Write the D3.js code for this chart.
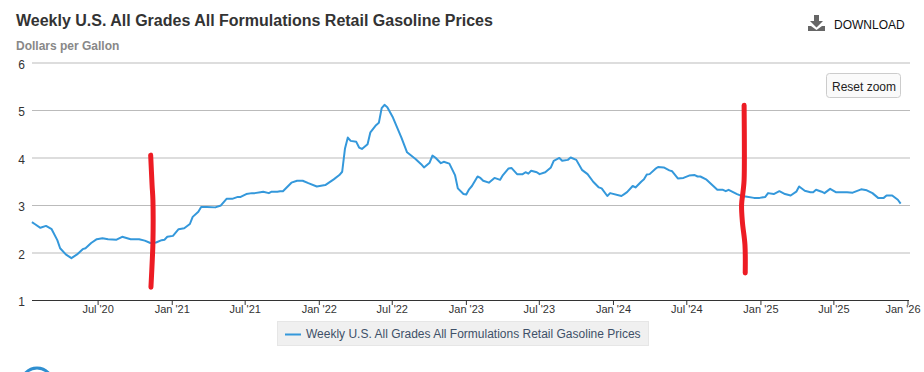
<!DOCTYPE html>
<html>
<head>
<meta charset="utf-8">
<script src="https://cdn.jsdelivr.net/npm/d3@7"></script>
<style>
    html, body { margin: 0; padding: 0; background: #fff; overflow: hidden; }
    svg { display: block; font-family: "Liberation Sans", Arial, sans-serif; }
</style>
</head>
<body>
<svg id="chart" width="924" height="372"></svg>
<script>
const chartTitle = "Weekly U.S. All Grades All Formulations Retail Gasoline Prices";
const unitLabel = "Dollars per Gallon";

// weeks counted from the first Monday on the chart
const firstWeek = "2020-01-20";
const weekNo = [
    0, 1, 3, 5, 7, 9, 10, 12, 14, 16, 18, 19, 21, 23, 25, 27, 30, 32, 35, 38,
    40, 42, 44, 46, 47, 48, 50, 52, 54, 56, 57, 59, 60, 62, 65, 67, 69, 71, 73, 74,
    76, 78, 79, 81, 82, 84, 85, 87, 88, 89, 92, 94, 96, 98, 101, 104, 107, 109, 110, 111,
    112, 113, 115, 116, 117, 119, 120, 122, 123, 124, 125, 126, 128, 131, 133, 136, 138, 139, 141, 142,
    143, 145, 146, 148, 150, 151, 153, 154, 155, 156, 158, 159, 160, 162, 164, 166, 167, 169, 170, 172,
    174, 175, 176, 177, 179, 180, 182, 184, 185, 187, 188, 190, 191, 193, 195, 197, 199, 201, 202, 204,
    205, 209, 210, 211, 213, 214, 216, 217, 218, 219, 221, 222, 224, 226, 227, 229, 231, 233, 235, 236,
    237, 239, 241, 243, 245, 246, 247, 250, 252, 253, 256, 258, 260, 261, 263, 265, 267, 269, 271, 272,
    274, 276, 277, 278, 280, 281, 283, 285, 287, 289, 291, 294, 296, 298, 300, 302, 303, 305, 307, 308
];
const prices = [
    2.64, 2.60, 2.52, 2.56, 2.49, 2.26, 2.09, 1.96, 1.88, 1.96, 2.07, 2.09, 2.20, 2.28, 2.30, 2.28, 2.27, 2.33, 2.28, 2.28,
    2.25, 2.20, 2.21, 2.26, 2.27, 2.33, 2.35, 2.49, 2.51, 2.60, 2.75, 2.86, 2.96, 2.96, 2.95, 2.99, 3.13, 3.13, 3.17, 3.17,
    3.23, 3.25, 3.25, 3.27, 3.28, 3.25, 3.28, 3.28, 3.29, 3.29, 3.47, 3.51, 3.51, 3.46, 3.39, 3.42, 3.54, 3.63, 3.70, 4.19,
    4.42, 4.35, 4.33, 4.21, 4.18, 4.28, 4.53, 4.68, 4.73, 5.04, 5.11, 5.06, 4.84, 4.42, 4.11, 3.97, 3.86, 3.79, 3.89, 4.04,
    4.00, 3.88, 3.91, 3.87, 3.63, 3.35, 3.23, 3.22, 3.33, 3.40, 3.60, 3.57, 3.51, 3.47, 3.57, 3.53, 3.63, 3.77, 3.78, 3.65,
    3.65, 3.69, 3.66, 3.72, 3.69, 3.65, 3.69, 3.79, 3.93, 3.99, 3.93, 3.95, 4.00, 3.95, 3.74, 3.65, 3.49, 3.37, 3.35, 3.19,
    3.25, 3.19, 3.23, 3.27, 3.40, 3.37, 3.49, 3.54, 3.64, 3.65, 3.76, 3.80, 3.79, 3.73, 3.71, 3.56, 3.57, 3.62, 3.63, 3.60,
    3.60, 3.54, 3.43, 3.32, 3.32, 3.29, 3.32, 3.23, 3.18, 3.18, 3.15, 3.15, 3.17, 3.25, 3.23, 3.29, 3.23, 3.20, 3.28, 3.39,
    3.30, 3.27, 3.27, 3.32, 3.28, 3.25, 3.34, 3.27, 3.27, 3.27, 3.26, 3.33, 3.31, 3.25, 3.15, 3.15, 3.20, 3.20, 3.11, 3.03
];

const yTicks = [1, 2, 3, 4, 5, 6];
const xTickDates = ["2020-07-01", "2021-01-01", "2021-07-01", "2022-01-01", "2022-07-01", "2023-01-01",
    "2023-07-01", "2024-01-01", "2024-07-01", "2025-01-01", "2025-07-01", "2026-01-01"];
const xTickLabels = ["Jul '20", "Jan '21", "Jul '21", "Jan '22", "Jul '22", "Jan '23",
    "Jul '23", "Jan '24", "Jul '24", "Jan '25", "Jul '25", "Jan '26"];

// the two red marker strokes somebody drew by hand on the screenshot
const leftInkWeeks = [42.1, 42.6, 42.9, 42.9, 42.7, 42.2];
const leftInkPrices = [4.05, 3.42, 3.1, 2.2, 1.88, 1.27];
const rightInkWeeks = [252.5, 252.5, 252.2, 251.6, 251.9, 252.8, 252.9];
const rightInkPrices = [5.1, 3.53, 3.32, 3.0, 2.64, 2.16, 1.57];

const margin = {top: 62.5, left: 32, right: 14, bottom: 72};
const width = +d3.select("#chart").attr("width");
const height = +d3.select("#chart").attr("height");
const svg = d3.select("#chart");

const parseDay = d3.utcParse("%Y-%m-%d");
const weekDate = w => new Date(parseDay(firstWeek).getTime() + w * 7 * 864e5);

const x = d3.scaleUtc()
    .domain([parseDay(xTickDates[0]), parseDay(xTickDates[xTickDates.length - 1])])
    .range([97.6, 907.5]);
const y = d3.scaleLinear()
    .domain([1, 6])
    .range([height - margin.bottom, margin.top]);

// gridlines + y labels
const yAxis = d3.axisLeft(y)
    .tickValues(yTicks)
    .tickFormat(d3.format("d"))
    .tickSize(0);
const gy = svg.append("g")
    .attr("transform", `translate(${margin.left},0)`)
    .call(yAxis);
gy.select(".domain").remove();
gy.selectAll("text")
    .attr("x", -7)
    .attr("dy", "0.48em")
    .attr("fill", "#333")
    .attr("font-size", 12);
gy.selectAll(".tick")
    .filter(d => d > 1)
    .append("line")
    .attr("x1", 0)
    .attr("x2", width - margin.right - margin.left)
    .attr("stroke", "#bbb");

// x axis
const labelFor = d3.scaleOrdinal()
    .domain(xTickDates.map(d => +parseDay(d)))
    .range(xTickLabels);
const xAxis = d3.axisBottom(x)
    .tickValues(xTickDates.map(parseDay))
    .tickFormat(d => labelFor(+d))
    .tickSizeOuter(0)
    .tickSize(5);
const gx = svg.append("g")
    .attr("transform", `translate(0,${height - margin.bottom})`)
    .call(xAxis);
gx.select(".domain")
    .attr("d", `M${margin.left},0.5H${width - margin.right - 1}`)
    .attr("stroke", "#333");
gx.selectAll("line").attr("stroke", "#333");
gx.selectAll("text")
    .attr("y", 13)
    .attr("dy", 0)
    .attr("fill", "#333")
    .attr("font-size", 11);
// last label is pulled in so it stays on the page
gx.selectAll(".tick:last-of-type text").attr("x", -5);

// price line
const line = d3.line()
    .x((d, i) => x(weekDate(d)))
    .y((d, i) => y(prices[i]));
svg.append("path")
    .attr("d", line(weekNo))
    .attr("fill", "none")
    .attr("stroke", "#3498db")
    .attr("stroke-width", 2)
    .attr("stroke-linejoin", "round");

// hand drawn strokes
const inkLine = (weeks, vals) => d3.line()
    .x(d => x(weekDate(d)))
    .y((d, i) => y(vals[i]))
    .curve(d3.curveCatmullRom.alpha(0.5))(weeks);
[[leftInkWeeks, leftInkPrices], [rightInkWeeks, rightInkPrices]].forEach(([w, p]) => {
    svg.append("path")
        .attr("d", inkLine(w, p))
        .attr("fill", "none")
        .attr("stroke", "#ed1c24")
        .attr("stroke-width", 5)
        .attr("stroke-linecap", "round");
});

// heading
svg.append("text")
    .attr("x", 16)
    .attr("y", 26)
    .attr("font-size", 16)
    .attr("font-weight", "bold")
    .attr("fill", "#333")
    .text(chartTitle);
svg.append("text")
    .attr("x", 16)
    .attr("y", 50)
    .attr("font-size", 12)
    .attr("font-weight", "bold")
    .attr("fill", "#888")
    .text(unitLabel);

// download link
svg.append("path")
    .attr("d", "M814,15h5v6h4l-6.5,6.5l-6.5,-6.5h4z M808,26h3l5.5,4l5.5,-4h3v5h-17z")
    .attr("fill", "#666");
svg.append("text")
    .attr("x", 834)
    .attr("y", 29)
    .attr("font-size", 12)
    .attr("fill", "#111")
    .text("DOWNLOAD");

// reset zoom button
svg.append("rect")
    .attr("x", 826.5)
    .attr("y", 73.5)
    .attr("width", 74)
    .attr("height", 24)
    .attr("rx", 3)
    .attr("fill", "#fafafa")
    .attr("stroke", "#ccc");
svg.append("text")
    .attr("x", 832)
    .attr("y", 91)
    .attr("font-size", 12)
    .attr("fill", "#222")
    .text("Reset zoom");

// legend
svg.append("rect")
    .attr("x", 277.5)
    .attr("y", 321.5)
    .attr("width", 371)
    .attr("height", 24)
    .attr("fill", "#f0f0f0")
    .attr("stroke", "#e6e6e6");
svg.append("line")
    .attr("x1", 285)
    .attr("x2", 301)
    .attr("y1", 334.5)
    .attr("y2", 334.5)
    .attr("stroke", "#3498db")
    .attr("stroke-width", 2);
svg.append("text")
    .attr("x", 306)
    .attr("y", 338)
    .attr("font-size", 12)
    .attr("fill", "#3e5068")
    .text(chartTitle);

// cut off logo at the page bottom
svg.append("circle")
    .attr("cx", 37)
    .attr("cy", 384)
    .attr("r", 16)
    .attr("fill", "none")
    .attr("stroke", "#2f8fd0")
    .attr("stroke-width", 3);
</script>
</body>
</html>
